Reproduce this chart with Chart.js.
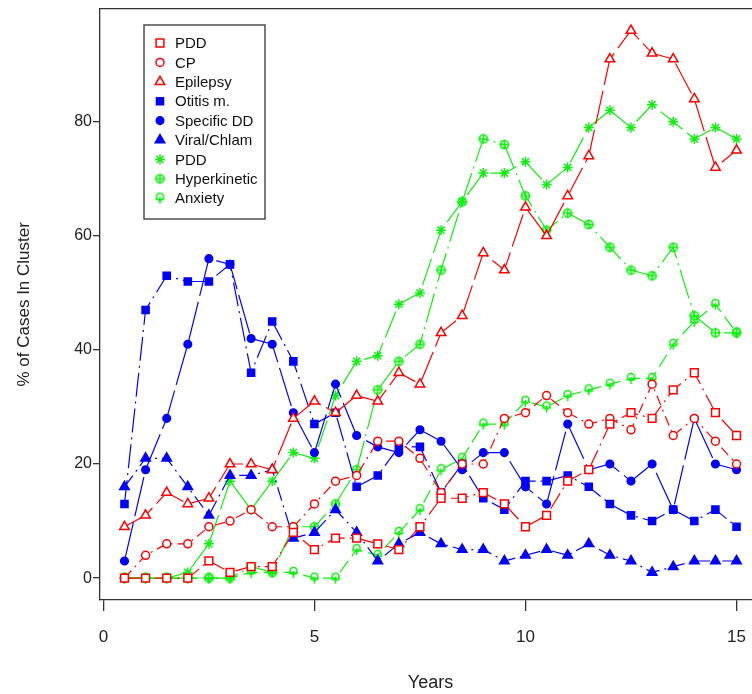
<!DOCTYPE html>
<html>
<head>
<meta charset="utf-8">
<script src="https://cdn.jsdelivr.net/npm/chart.js@4.4.1/dist/chart.umd.min.js"></script>
<style>
  html, body { margin: 0; padding: 0; background: #fff; overflow: hidden; }
  #wrap { width: 770px; height: 696px; margin-top: -2px; }
</style>
</head>
<body>
<div id="wrap"><canvas id="myChart" width="770" height="696"></canvas></div>
<script>
// age in years, one point every half year
const years = [0.5, 1, 1.5, 2, 2.5, 3, 3.5, 4, 4.5, 5, 5.5, 6, 6.5, 7, 7.5,
               8, 8.5, 9, 9.5, 10, 10.5, 11, 11.5, 12, 12.5, 13, 13.5, 14, 14.5, 15];

// % of cases in cluster
const pddRed      = [0, 0, 0, 0, 3, 1, 2, 2, 8, 5, 7, 7, 6, 5, 9, 14, 14, 15, 13, 9, 11, 17, 19, 27, 29, 28, 33, 36, 29, 25];
const cp          = [0, 4, 6, 6, 9, 10, 12, 9, 9, 13, 17, 18, 24, 24, 21, 15, 20, 20, 28, 29, 32, 29, 27, 28, 26, 34, 25, 28, 24, 20];
const epilepsy    = [9, 11, 15, 13, 14, 20, 20, 19, 28, 31, 29, 32, 31, 36, 34, 43, 46, 57, 54, 65, 60, 67, 74, 91, 96, 92, 91, 84, 72, 75];
const otitis      = [13, 47, 53, 52, 52, 55, 36, 45, 38, 27, 29, 16, 18, 23, 23, 15, 20, 14, 12, 17, 17, 18, 16, 13, 11, 10, 12, 10, 12, 9];
const specificDD  = [3, 19, 28, 41, 56, 55, 42, 41, 29, 22, 34, 25, 23, 22, 26, 24, 19, 22, 22, 16, 13, 27, 19, 20, 17, 20, 12, 28, 20, 19];
const viral       = [16, 21, 21, 16, 11, 18, 18, 19, 7, 8, 12, 8, 3, 6, 8, 6, 5, 5, 3, 4, 5, 4, 6, 4, 3, 1, 2, 3, 3, 3];
const pddGreen    = [0, 0, 0, 1, 6, 17, 12, 17, 22, 21, 32, 38, 39, 48, 50, 61, 66, 71, 71, 73, 69, 72, 79, 82, 79, 83, 80, 77, 79, 77];
const hyperkin    = [0, 0, 0, 0, 0, 0, 2, 1, 9, 9, 13, 19, 33, 38, 41, 54, 66, 77, 76, 67, 61, 64, 62, 58, 54, 53, 58, 46, 43, 43];
const anxiety     = [0, 0, 0, 0, 0, 0, 1, 1, 1, 0, 0, 5, 4, 8, 12, 19, 21, 27, 27, 31, 30, 32, 33, 34, 35, 35, 41, 45, 48, 43];

const yTicks = [0, 20, 40, 60, 80];
const xTicks = [0, 5, 10, 15];

const RED = '#ff0000', BLUE = '#0000ff', GREEN = '#10f010';
const FONT = '"Liberation Sans", Arial, sans-serif';

function symbol(draw) {
    const c = document.createElement('canvas');
    c.width = 13; c.height = 13;
    const g = c.getContext('2d');
    g.strokeStyle = GREEN;
    g.lineWidth = 1.6;
    draw(g);
    return c;
}

// circle with a plus
const circlePlus = symbol(g => {
    g.beginPath(); g.arc(6.5, 6.5, 4, 0, Math.PI * 2); g.stroke();
    g.beginPath();
    g.moveTo(6.5, 1.5); g.lineTo(6.5, 11.5);
    g.moveTo(1.5, 6.5); g.lineTo(11.5, 6.5);
    g.stroke();
});

// small circle on top of a cross bar
const circleBar = symbol(g => {
    g.beginPath(); g.arc(6.5, 5, 3.5, 0, Math.PI * 2); g.stroke();
    g.beginPath();
    g.moveTo(6.5, 5); g.lineTo(6.5, 12);
    g.moveTo(2, 7.5); g.lineTo(11, 7.5);
    g.stroke();
});

const pts = vals => years.map((x, i) => ({ x: x, y: vals[i] }));

function series(label, vals, color, style, radius, filled, dash) {
    return {
        label: label,
        data: pts(vals),
        borderColor: color,
        borderWidth: 1.2,
        borderDash: dash,
        pointStyle: style,
        pointRadius: radius,
        pointHoverRadius: radius,
        pointBorderWidth: 1.5,
        pointBorderColor: color,
        pointBackgroundColor: filled ? color : '#ffffff',
        fill: false,
        tension: 0
    };
}

const datasets = [
    series('PDD', pddRed, RED, 'rect', 5.5, false, [18, 5, 2, 5]),
    series('CP', cp, RED, 'circle', 4, false, [10, 5, 2, 5]),
    series('Epilepsy', epilepsy, RED, 'triangle', 5.5, false, [34, 6]),
    series('Otitis m.', otitis, BLUE, 'rect', 5, true, [24, 5, 2, 5]),
    series('Specific DD', specificDD, BLUE, 'circle', 3.8, true, [40, 6]),
    series('Viral/Chlam', viral, BLUE, 'triangle', 5.5, true, [14, 5, 2, 5]),
    series('PDD', pddGreen, GREEN, 'star', 5, false, [28, 6]),
    series('Hyperkinetic', hyperkin, GREEN, circlePlus, 6, false, [30, 5, 2, 5]),
    series('Anxiety', anxiety, GREEN, circleBar, 6, false, [14, 6])
];

// legend box inside the plot, plus the top edge of the frame
const frameAndLegend = {
    id: 'frameAndLegend',
    afterDraw(chart) {
        const ctx = chart.ctx;
        const a = chart.chartArea;
        ctx.save();
        ctx.strokeStyle = '#333';
        ctx.lineWidth = 1.3;
        ctx.beginPath();
        ctx.moveTo(a.left, a.top);
        ctx.lineTo(a.right, a.top);
        ctx.stroke();

        ctx.strokeRect(144, 27, 121, 194);
        ctx.font = '15px ' + FONT;
        ctx.textBaseline = 'middle';
        chart.data.datasets.forEach((ds, i) => {
            const y = 45 + i * 19.4;
            ctx.strokeStyle = ds.pointBorderColor;
            ctx.fillStyle = ds.pointBackgroundColor;
            ctx.lineWidth = ds.pointBorderWidth;
            Chart.helpers.drawPoint(ctx, {
                pointStyle: ds.pointStyle,
                radius: ds.pointRadius,
                borderWidth: ds.pointBorderWidth,
                rotation: 0
            }, 160, y);
            ctx.fillStyle = '#111';
            ctx.fillText(ds.label, 175, y + 1);
        });
        ctx.restore();
    }
};

new Chart(document.getElementById('myChart'), {
    type: 'line',
    data: { datasets: datasets },
    plugins: [frameAndLegend],
    options: {
        responsive: false,
        animation: false,
        events: [],
        layout: { padding: { top: -2, right: 9, left: 0, bottom: 0 } },
        plugins: { legend: { display: false }, tooltip: { enabled: false } },
        scales: {
            x: {
                type: 'linear',
                min: -0.08,
                max: 15.58,
                afterBuildTicks: s => { s.ticks = xTicks.map(v => ({ value: v })); },
                afterFit: s => { s.height = 94; },
                grid: { drawOnChartArea: false, drawTicks: true, tickLength: 11, color: '#333', lineWidth: 1.3 },
                border: { display: true, color: '#333', width: 1.3 },
                ticks: { color: '#222', padding: 16, maxRotation: 0, font: { family: FONT, size: 17 } },
                title: { display: true, text: 'Years', color: '#222', padding: { top: 0, bottom: 0 }, font: { family: FONT, size: 18 } }
            },
            y: {
                min: -3.84,
                max: 99.84,
                afterBuildTicks: s => { s.ticks = yTicks.map(v => ({ value: v })); },
                afterFit: s => { s.width = 100; },
                grid: { drawOnChartArea: false, drawTicks: true, tickLength: 7, color: '#333', lineWidth: 1.3 },
                border: { display: true, color: '#333', width: 1.3 },
                ticks: { color: '#222', padding: 1, font: { family: FONT, size: 16 } },
                title: { display: true, text: '% of Cases In Cluster', color: '#222', padding: { top: 14, bottom: 0 }, font: { family: FONT, size: 17 } }
            }
        }
    }
});
</script>
</body>
</html>
